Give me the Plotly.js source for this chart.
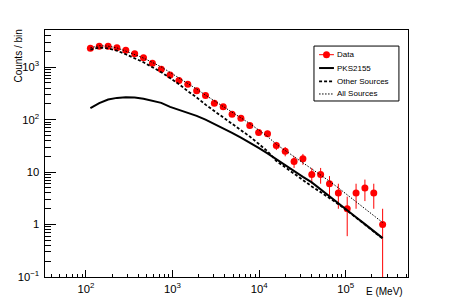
<!DOCTYPE html>
<html>
<head>
<meta charset="utf-8">
<script src="https://cdn.plot.ly/plotly-3.0.1.min.js"></script>
<style>html,body{margin:0;padding:0;background:#fff;}#chart{width:454px;height:308px;}</style>
</head>
<body>
<div id="chart"></div>
<script>
// Bin centres (MeV)
const energy = [112.5, 142.4, 180.2, 228.0, 288.5, 365.2, 462.0, 584.8, 740.0, 936.5,
  1185, 1500, 1898, 2402, 3040, 3847, 4868, 6161, 7797, 9867,
  12490, 15800, 20000, 25310, 32030, 40530, 51300, 64920, 82160, 104000,
  131600, 166500, 210700, 266700];
// Observed counts per bin
const dataCounts = [2290, 2510, 2510, 2350, 2100, 1810, 1510, 1190, 910, 710,
  555, 472, 357, 287, 205, 177, 127, 106, 77, 57,
  54, 32, 25, 16, 18, 9, 9, 6, 4, 2,
  4, 5, 4, 1];
const dataErrPlus = [48, 50, 50, 48, 46, 43, 39, 34, 30, 27,
  24, 22, 19, 17, 14, 13, 11, 10, 8.8, 7.6,
  7.3, 5.7, 5.0, 4.0, 4.2, 3.0, 3.0, 2.4, 2.0, 1.4,
  2.0, 2.2, 2.0, 1.0];
const dataErrMinus = [48, 50, 50, 48, 46, 43, 39, 34, 30, 27,
  24, 22, 19, 17, 14, 13, 11, 10, 8.8, 7.6,
  7.3, 5.7, 5.0, 4.0, 4.2, 3.0, 3.0, 2.4, 2.0, 1.4,
  2.0, 2.2, 2.0, 0.99];
// Model: PKS2155
const pks2155 = [165, 207, 242, 260, 267, 265, 251, 232, 209, 175,
  153, 136, 118, 100, 82.8, 68.5, 56.1, 45.2, 36.6, 28.9,
  22.8, 17.5, 13.5, 10.5, 8.13, 6.37, 4.66, 3.47, 2.55, 1.88,
  1.38, 1.02, 0.748, 0.551];
// Model: other sources
const otherSources = [2173, 2362, 2280, 2070, 1762, 1490, 1240, 1000, 803, 620,
  475, 349, 265, 193, 145, 112, 85.2, 63.8, 47.6, 34.6,
  25.0, 16.3, 12.3, 9.24, 7.1, 5.34, 4.15, 3.22, 2.45, 1.84,
  1.35, 0.99, 0.73, 0.54];
// Model: all sources
const allSources = [2338, 2569, 2522, 2330, 2029, 1755, 1491, 1232, 1012, 795,
  628, 485, 383, 293, 228, 180, 141, 109, 84.2, 63.5,
  47.8, 33.8, 25.8, 19.7, 15.2, 11.7, 8.8, 6.7, 5.0, 3.72,
  2.73, 2.01, 1.48, 1.09];
const legendLabels = ['Data', 'PKS2155', 'Other Sources', 'All Sources'];
const xTitle = 'E (MeV)';
const yTitle = 'Counts / bin';

const FONT = 'Liberation Sans, Arial, Helvetica, sans-serif';

const traces = [
  {x: energy, y: dataCounts, type: 'scatter', mode: 'markers', name: legendLabels[0],
   marker: {color: '#ff0000', size: 7, symbol: 'circle'},
   error_y: {type: 'data', array: dataErrPlus, arrayminus: dataErrMinus, symmetric: false,
             color: '#ff0000', thickness: 1, width: 0}},
  {x: energy, y: pks2155, type: 'scatter', mode: 'lines', name: legendLabels[1],
   line: {color: '#000', width: 2}},
  {x: energy, y: otherSources, type: 'scatter', mode: 'lines', name: legendLabels[2],
   line: {color: '#000', width: 1.8, dash: '3px,2px'}},
  {x: energy, y: allSources, type: 'scatter', mode: 'lines', name: legendLabels[3],
   line: {color: '#000', width: 1, dash: '1.5px,1.5px'}}
];

// legend geometry (paper coordinates)
const lg = {x0: 0.741, x1: 0.975, y0: 0.7126, y1: 0.935,
            rows: [0.900, 0.846, 0.792, 0.741], s0: 0.755, s1: 0.796, tx: 0.800};
const shapes = [
  {type: 'rect', xref: 'paper', yref: 'paper', x0: lg.x0, x1: lg.x1, y0: lg.y0, y1: lg.y1,
   line: {color: '#000', width: 1}, fillcolor: '#fff', layer: 'above'},
  {type: 'line', xref: 'paper', yref: 'paper', x0: lg.s0, x1: lg.s1, y0: lg.rows[0], y1: lg.rows[0],
   line: {color: '#ff0000', width: 1}},
  {type: 'circle', xref: 'paper', yref: 'paper',
   x0: (lg.s0 + lg.s1) / 2 - 0.0096, x1: (lg.s0 + lg.s1) / 2 + 0.0096,
   y0: lg.rows[0] - 0.0142, y1: lg.rows[0] + 0.0142,
   line: {color: '#ff0000', width: 0}, fillcolor: '#ff0000'},
  {type: 'line', xref: 'paper', yref: 'paper', x0: lg.s0, x1: lg.s1, y0: lg.rows[1], y1: lg.rows[1],
   line: {color: '#000', width: 2}},
  {type: 'line', xref: 'paper', yref: 'paper', x0: lg.s0, x1: lg.s1, y0: lg.rows[2], y1: lg.rows[2],
   line: {color: '#000', width: 1.8, dash: '3px,2px'}},
  {type: 'line', xref: 'paper', yref: 'paper', x0: lg.s0, x1: lg.s1, y0: lg.rows[3], y1: lg.rows[3],
   line: {color: '#000', width: 1, dash: '1.5px,1.5px'}}
];
const annotations = legendLabels.map((t, i) => ({
  text: t, xref: 'paper', yref: 'paper', x: lg.tx, y: lg.rows[i], xanchor: 'left', yanchor: 'middle',
  showarrow: false, font: {family: FONT, size: 8, color: '#000'}
}));
annotations.push({text: yTitle, xref: 'paper', yref: 'paper', x: -0.0716, y: 1.008, xanchor: 'center',
  yanchor: 'top', textangle: -90, showarrow: false, font: {family: FONT, size: 10, color: '#000'}});
annotations.push({text: xTitle, xref: 'paper', yref: 'paper', x: 0.9917, y: -0.0607, xanchor: 'right',
  yanchor: 'middle', showarrow: false, font: {family: FONT, size: 10, color: '#000'}});

const layout = {
  width: 454, height: 308,
  margin: {l: 45, r: 46, t: 30, b: 31, pad: 0},
  paper_bgcolor: '#fff', plot_bgcolor: '#fff',
  showlegend: false,
  font: {family: FONT, size: 9, color: '#000'},
  xaxis: {type: 'log', range: [1.527, 5.719], dtick: 1, exponentformat: 'power',
          showgrid: false, zeroline: false, showline: true, linecolor: '#000', linewidth: 1, mirror: true,
          ticks: 'inside', ticklen: 7, tickcolor: '#000', tickwidth: 1,
          minor: {ticks: 'inside', ticklen: 3.5, tickcolor: '#000', tickwidth: 1, dtick: 'D1', showgrid: false},
          tickfont: {family: FONT, size: 9, color: '#000'}, ticklabelstandoff: 2},
  yaxis: {type: 'log', range: [-1, 3.709], dtick: 1, exponentformat: 'power',
          showgrid: false, zeroline: false, showline: true, linecolor: '#000', linewidth: 1, mirror: true,
          ticks: 'inside', ticklen: 11, tickcolor: '#000', tickwidth: 1,
          minor: {ticks: 'inside', ticklen: 5.5, tickcolor: '#000', tickwidth: 1, dtick: 'D1', showgrid: false},
          tickfont: {family: FONT, size: 9, color: '#000'}, ticklabelstandoff: 3},
  shapes: shapes,
  annotations: annotations
};

Plotly.newPlot('chart', traces, layout, {displayModeBar: false});
</script>
</body>
</html>
